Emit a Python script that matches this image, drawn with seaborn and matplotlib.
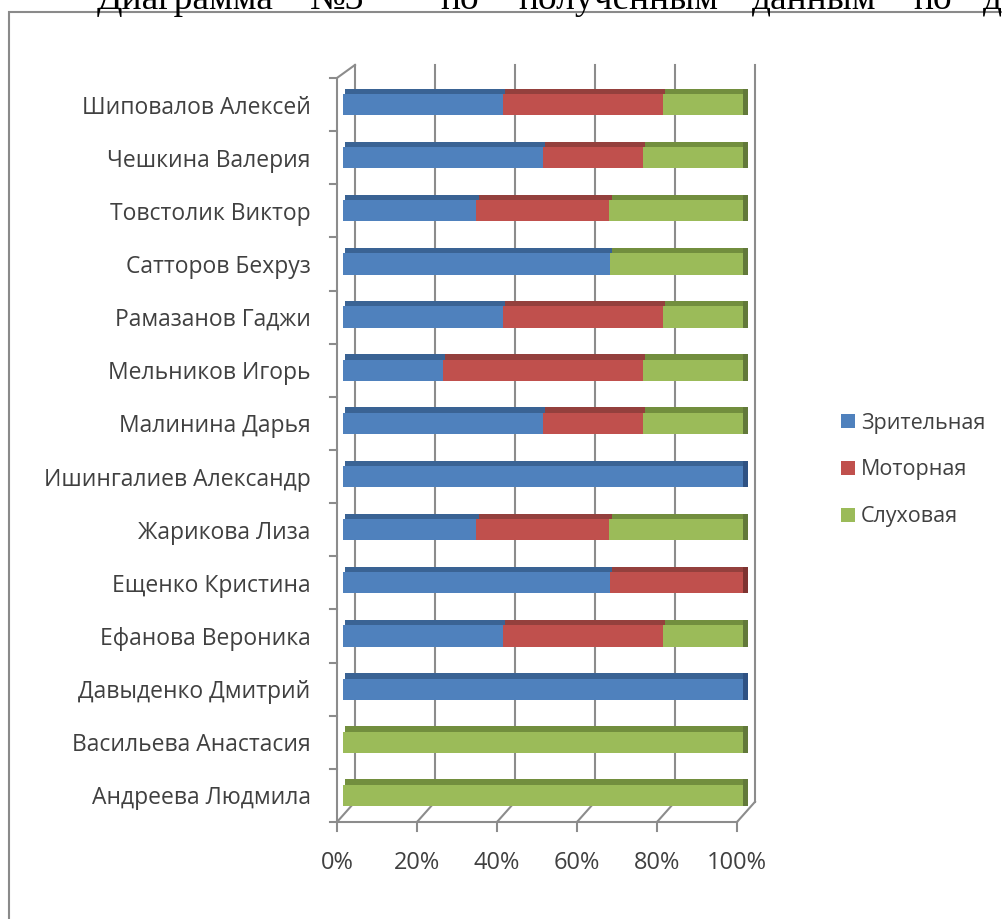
import matplotlib
matplotlib.use('Agg')
import matplotlib.pyplot as plt
from matplotlib.patches import Rectangle, Patch
import seaborn as sns
import pandas as pd
import numpy as np

# данные диаграммы (доли в %)
students = ['Шиповалов Алексей', 'Чешкина Валерия', 'Товстолик Виктор', 'Сатторов Бехруз',
            'Рамазанов Гаджи', 'Мельников Игорь', 'Малинина Дарья', 'Ишингалиев Александр',
            'Жарикова Лиза', 'Ещенко Кристина', 'Ефанова Вероника', 'Давыденко Дмитрий',
            'Васильева Анастасия', 'Андреева Людмила']
zritelnaya = [40, 50, 33.3, 66.7, 40, 25, 50, 100, 33.3, 66.7, 40, 100, 0, 0]
motornaya = [40, 25, 33.3, 0, 40, 50, 25, 0, 33.3, 33.3, 40, 0, 0, 0]
sluhovaya = [20, 25, 33.4, 33.3, 20, 25, 25, 0, 33.4, 0, 20, 0, 100, 100]
series = ['Зрительная', 'Моторная', 'Слуховая']
x_ticks = [0, 20, 40, 60, 80, 100]
x_labels = ['0%', '20%', '40%', '60%', '80%', '100%']
header_words = ['Диаграмма', '№3', 'по', 'полученным', 'данным', 'по', 'д']
header_x = [97, 310, 440, 518, 752, 913, 983]

face = ['#4F81BD', '#C0504D', '#9BBB59']
top = ['#3A6394', '#94403D', '#728E3E']
side = ['#2F5283', '#7E3331', '#62793A']
txt = '#404040'
grid_c = '#8C8C8C'

df = pd.DataFrame({'name': students, series[0]: zritelnaya,
                   series[1]: motornaya, series[2]: sluhovaya})
vals = df[series].to_numpy()
starts = np.cumsum(vals, axis=1) - vals
df['c0'] = vals[:, 0]
df['c1'] = vals[:, 0] + vals[:, 1]
df['c2'] = vals.sum(axis=1)

W, H = 1003, 919
fig = plt.figure(figsize=(W / 100, H / 100), dpi=100)
ax = fig.add_axes([330 / W, 1 - 822 / H, 430 / W, 760 / H])

# фоновые линии сетки (задняя стенка) и диагонали пола
for v in x_ticks:
    ax.plot([v - 1.5, v + 3], [13.5, 13.12], color=grid_c, lw=1.5, zorder=0.5, clip_on=False)
    ax.plot([v + 3, v + 3], [13.12, -0.745], color=grid_c, lw=1.5, zorder=0.5)
    ax.plot([v - 1.5, v - 1.5], [13.5, 13.66], color=grid_c, lw=1.5, clip_on=False)
ax.plot([-3.25, 98.5], [13.5, 13.5], color=grid_c, lw=1.5, clip_on=False)
ax.plot([-1.5, -1.5, 3], [13.5, -0.5, -0.745], color=grid_c, lw=1.5, clip_on=False)
for b in np.arange(-0.5, 13, 1):
    ax.plot([-3.25, -1.5], [b, b], color=grid_c, lw=1.5, clip_on=False)

# накопленные полосы (спереди)
bar_h = 0.4
for col, c in zip(['c2', 'c1', 'c0'], face[::-1]):
    sns.barplot(data=df, x=col, y='name', orient='h', color=c, saturation=1,
                width=bar_h, linewidth=0, ax=ax, zorder=2)

# верхняя грань и торец для объёма
y = np.arange(len(students))
strip = 0.1
for i in range(3):
    ax.barh(y - bar_h / 2 - strip / 2, vals[:, i], left=starts[:, i] + 0.6,
            height=strip, color=top[i], linewidth=0, zorder=2)
last = np.array([max(j for j in range(3) if row[j] > 0) for row in vals])
ax.barh(y - strip / 2, 1.2, left=df['c2'], height=bar_h + strip,
        color=[side[k] for k in last], linewidth=0, zorder=2)

ax.set_xlim(-3.25, 104.25)
ax.set_ylim(13.5, -0.8)
ax.set_xticks([v - 1.5 for v in x_ticks])
ax.set_xticklabels(x_labels)
ax.set_yticks(y)
ax.set_yticklabels(students)
ax.tick_params(axis='y', length=0, labelcolor=txt, labelsize=16.5, pad=14)
ax.tick_params(axis='x', length=0, labelcolor=txt, labelsize=17, pad=21)
for lab in ax.get_xticklabels() + ax.get_yticklabels():
    lab.set_family('Open Sans')
ax.set_xlabel('')
ax.set_ylabel('')
for s in ax.spines.values():
    s.set_visible(False)
ax.set_facecolor('none')

handles = [Patch(facecolor=c, edgecolor='none') for c in face]
fig.legend(handles, series, loc='center left', bbox_to_anchor=(830 / W, 1 - 470 / H),
           frameon=False, prop={'family': 'Open Sans', 'size': 15.5},
           handlelength=0.65, handleheight=0.65, handletextpad=0.3,
           labelspacing=1.2, borderpad=0, labelcolor=txt)

# рамка и обрезанный заголовок сверху
fig.add_artist(Rectangle((9 / W, -0.1), 1.2, 1.1 - 12 / H, transform=fig.transFigure,
                         fill=False, edgecolor='#8A8A8A', lw=1.5))
for w, x in zip(header_words, header_x):
    fig.text(x / W, 1 - 9 / H, w, family='Liberation Serif', fontsize=27,
             va='baseline', ha='left', color='black')

fig.savefig('out.png', dpi=100, facecolor='white')
